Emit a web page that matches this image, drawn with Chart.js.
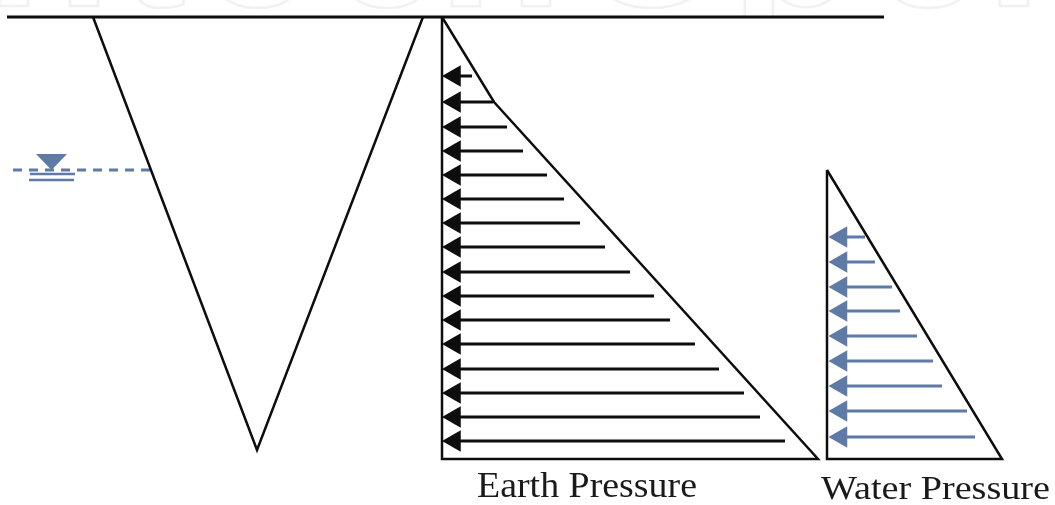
<!DOCTYPE html>
<html>
<head>
<meta charset="utf-8">
<script src="https://cdn.jsdelivr.net/npm/chart.js@4"></script>
<style>
  html, body { margin: 0; padding: 0; background: #fff; }
  #diagram { display: block; }
</style>
</head>
<body>
<canvas id="diagram" width="1055" height="505"></canvas>
<script>
// picture units, x from the left and depth from the top
const groundX = [7, 884];
const groundY = [17, 17];
const wedgeX = [93, 257, 423];
const wedgeY = [17, 450, 17];

const earthOutlineX = [442, 442, 818, 494, 442];
const earthOutlineY = [17, 459, 459, 102, 17];
const earthDepth = [76, 102, 127, 151, 175, 199, 223, 247, 272, 296, 320, 344, 369, 393, 417, 441];
const earthEnd = [472, 493, 507, 523, 547, 564, 580, 605, 630, 654, 670, 695, 719, 744, 760, 785];

const waterOutlineX = [827, 827, 1002, 827];
const waterOutlineY = [170, 459, 459, 170];
const waterDepth = [237, 262, 287, 311, 336, 361, 386, 411, 437];
const waterEnd = [865, 875, 892, 900, 917, 933, 942, 967, 975];

const tableX = [13, 152];
const tableY = [170, 170];
const tableMarkX = [36, 67, 51.5];
const tableMarkY = [154, 154, 170];
const tableBar1X = [30, 75];
const tableBar1Y = [174, 174];
const tableBar2X = [29, 74];
const tableBar2Y = [180, 180];

const labels = ['Earth Pressure', 'Water Pressure'];
const labelX = [477, 821];
const labelY = [497, 499];
const labelSize = [36, 33];
const labelWidth = [220, 229];

// stamp letters cut off by the top edge, only their feet show
const stampLetters = ['n', 't', 'e', 'c', 'h', 'O', 'p', 'e', 'n'];
const stampX = [48, 152, 256, 385, 500, 652, 793, 927, 1048];

const black = '#0d0d0d';
const blue = '#5d7ba6';

const toPoints = (xs, ys) => xs.map((x, i) => ({ x, y: ys[i] }));

const lineSet = (xs, ys, color, width, extra = {}) => ({
  type: 'line',
  data: toPoints(xs, ys),
  borderColor: color,
  borderWidth: width,
  pointRadius: 0,
  tension: 0,
  fill: false,
  ...extra
});

const arrowShafts = (depths, ends, startX, color) =>
  depths.map((d, i) => lineSet([startX, ends[i]], [d, d], color, 3));

const arrowHeads = (depths, headX, color) => ({
  type: 'scatter',
  data: depths.map((d) => ({ x: headX, y: d })),
  pointStyle: 'triangle',
  rotation: -90,
  pointRadius: 12.5,
  pointBorderWidth: 0,
  backgroundColor: color,
  borderColor: color
});

const textPlugin = {
  id: 'pictureText',
  beforeDatasetsDraw(chart) {
    const { ctx, scales } = chart;
    ctx.save();
    ctx.beginPath();
    ctx.rect(0, 0, 1055, 16);
    ctx.clip();
    ctx.strokeStyle = '#f0f2f0';
    ctx.lineWidth = 2.5;
    ctx.font = 'bold 205px "Liberation Sans"';
    ctx.textAlign = 'center';
    ctx.textBaseline = 'alphabetic';
    stampLetters.forEach((letter, i) => {
      ctx.strokeText(letter, scales.x.getPixelForValue(stampX[i]), scales.y.getPixelForValue(6));
    });
    ctx.restore();
  },
  afterDatasetsDraw(chart) {
    const { ctx, scales } = chart;
    ctx.fillStyle = '#1a1a1a';
    ctx.textBaseline = 'alphabetic';
    labels.forEach((text, i) => {
      ctx.save();
      ctx.font = `${labelSize[i]}px "Liberation Serif"`;
      ctx.translate(scales.x.getPixelForValue(labelX[i]), scales.y.getPixelForValue(labelY[i]));
      ctx.scale(labelWidth[i] / ctx.measureText(text).width, 1);
      ctx.fillText(text, 0, 0);
      ctx.restore();
    });
  }
};

new Chart(document.getElementById('diagram'), {
  type: 'scatter',
  data: {
    datasets: [
      lineSet(groundX, groundY, black, 3),
      lineSet(wedgeX, wedgeY, black, 2.5),
      lineSet(earthOutlineX, earthOutlineY, black, 2.5),
      lineSet(waterOutlineX, waterOutlineY, black, 2.5),
      arrowHeads(earthDepth, 454.5, black),
      ...arrowShafts(earthDepth, earthEnd, 450, black),
      arrowHeads(waterDepth, 841, blue),
      ...arrowShafts(waterDepth, waterEnd, 838, blue),
      lineSet(tableMarkX, tableMarkY, blue, 0, { fill: 'shape', backgroundColor: blue }),
      lineSet(tableX, tableY, blue, 3, { borderDash: [9, 7] }),
      lineSet(tableBar1X, tableBar1Y, blue, 2.5),
      lineSet(tableBar2X, tableBar2Y, blue, 2.5)
    ]
  },
  options: {
    responsive: false,
    animation: false,
    layout: { padding: 0, autoPadding: false },
    plugins: {
      legend: { display: false },
      tooltip: { enabled: false }
    },
    scales: {
      x: { type: 'linear', min: 0, max: 1055, display: false },
      y: { type: 'linear', min: 0, max: 505, reverse: true, display: false }
    }
  },
  plugins: [textPlugin]
});
</script>
</body>
</html>
